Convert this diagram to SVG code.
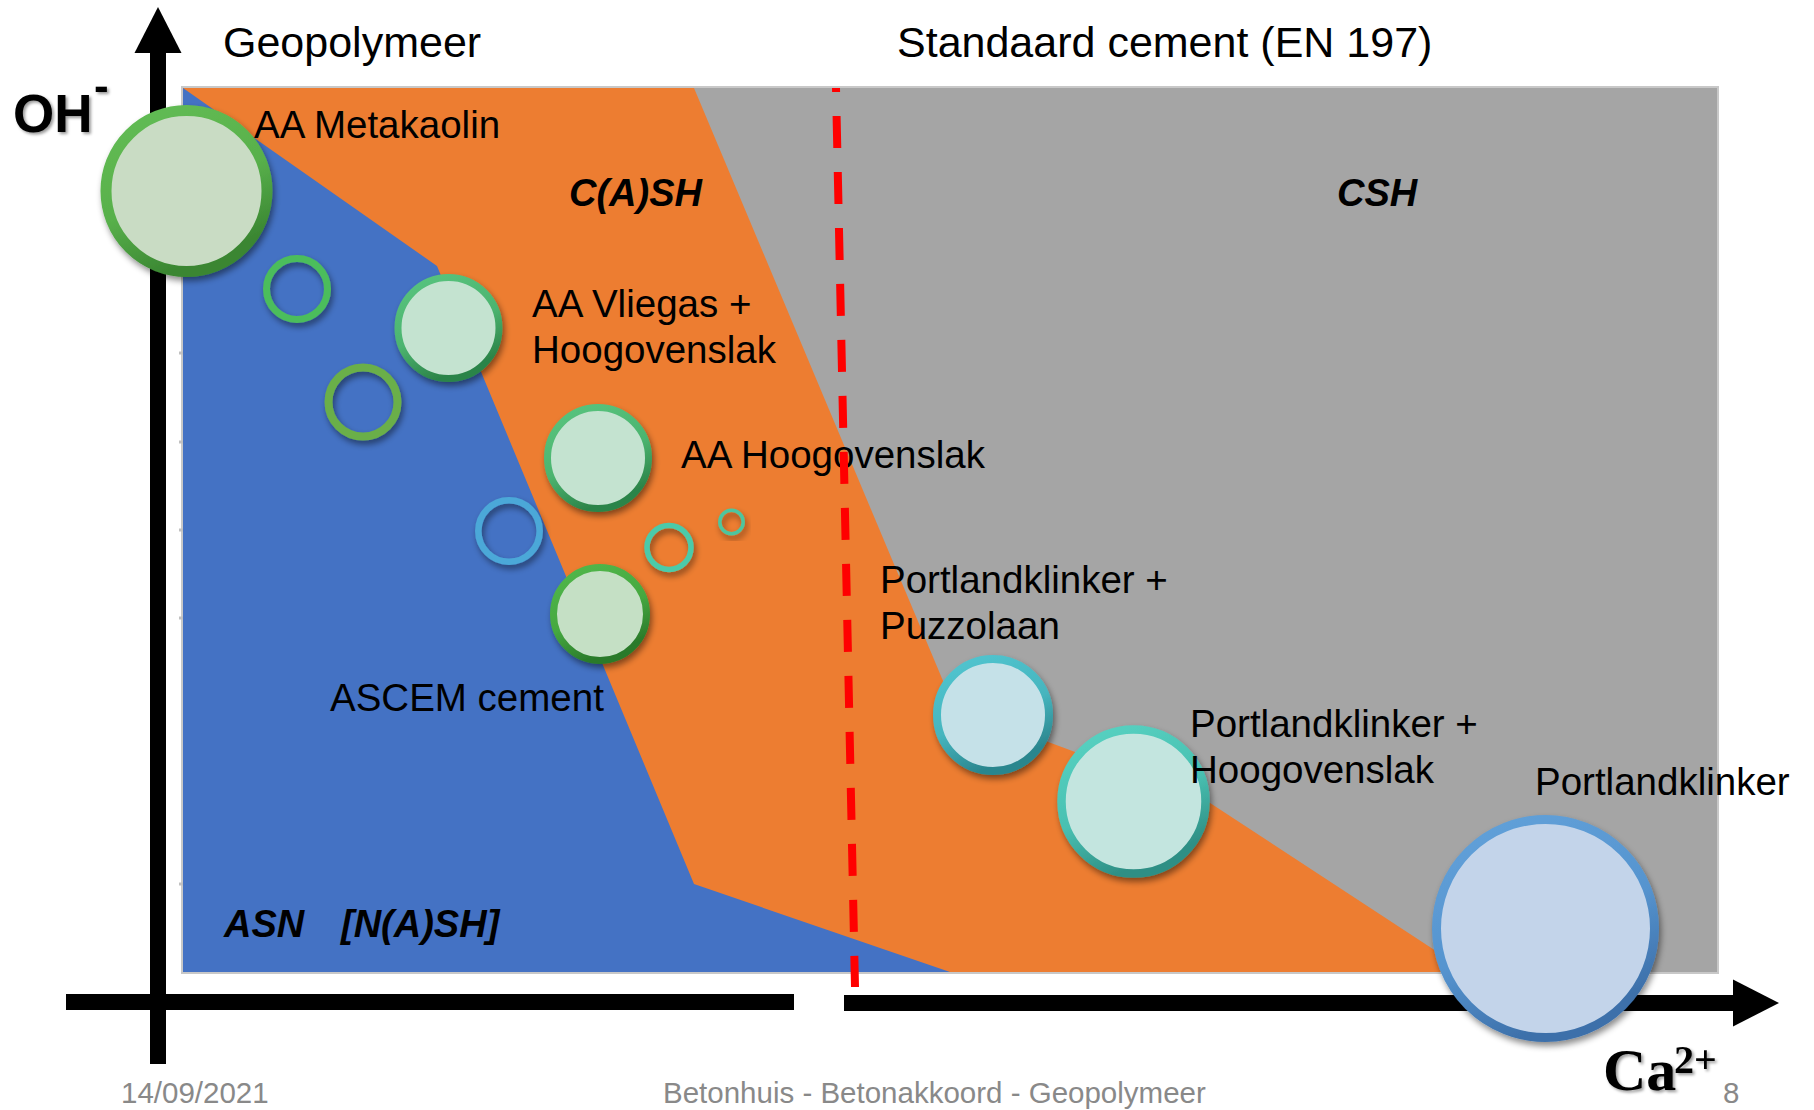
<svg xmlns="http://www.w3.org/2000/svg" width="1814" height="1110" viewBox="0 0 1814 1110">
  <style>
    .lbl { font-family: "Liberation Sans", Arial, sans-serif; font-size: 38.5px; fill: #000; }
    .title { font-family: "Liberation Sans", Arial, sans-serif; font-size: 43px; fill: #000; }
    .zone { font-family: "Liberation Sans", Arial, sans-serif; font-size: 38px; font-weight: bold; font-style: italic; fill: #000; }
    .foot { font-family: "Liberation Sans", Arial, sans-serif; font-size: 29.5px; fill: #898989; }
    .axis { stroke: #000; stroke-width: 16; fill: none; }
    .ring { fill: none; filter: url(#shadow); }
    .bubble { filter: url(#shadow); }
  </style>
  <defs>
    <filter id="shadow" x="-30%" y="-30%" width="160%" height="160%">
      <feDropShadow dx="2" dy="4" stdDeviation="3" flood-color="#000" flood-opacity="0.45"/>
    </filter>
    <filter id="tshadow" x="-20%" y="-20%" width="140%" height="140%">
      <feDropShadow dx="2" dy="2" stdDeviation="1.5" flood-color="#000" flood-opacity="0.4"/>
    </filter>
    <linearGradient id="gGreen" x1="0" y1="0" x2="0.4" y2="1">
      <stop offset="0" stop-color="#63bd55"/><stop offset="0.6" stop-color="#58b04b"/><stop offset="1" stop-color="#3a8632"/>
    </linearGradient>
    <linearGradient id="gGreen2" x1="0" y1="0" x2="0.4" y2="1">
      <stop offset="0" stop-color="#58c57f"/><stop offset="0.6" stop-color="#4cb46f"/><stop offset="1" stop-color="#2c8449"/>
    </linearGradient>
    <linearGradient id="gGreen3" x1="0" y1="0" x2="0.4" y2="1">
      <stop offset="0" stop-color="#52b84b"/><stop offset="0.6" stop-color="#45a840"/><stop offset="1" stop-color="#2a7a2a"/>
    </linearGradient>
    <linearGradient id="gTeal" x1="0" y1="0" x2="0.4" y2="1">
      <stop offset="0" stop-color="#52c6d1"/><stop offset="0.6" stop-color="#46b5be"/><stop offset="1" stop-color="#2b868e"/>
    </linearGradient>
    <linearGradient id="gTeal2" x1="0" y1="0" x2="0.4" y2="1">
      <stop offset="0" stop-color="#58d3c3"/><stop offset="0.6" stop-color="#49c0b1"/><stop offset="1" stop-color="#2e8f85"/>
    </linearGradient>
    <linearGradient id="gBlue" x1="0" y1="0" x2="0.4" y2="1">
      <stop offset="0" stop-color="#62a2da"/><stop offset="0.6" stop-color="#5694cf"/><stop offset="1" stop-color="#3d70aa"/>
    </linearGradient>
    <marker id="arrow" markerUnits="userSpaceOnUse" markerWidth="47" markerHeight="48" refX="0" refY="23.5" orient="auto" overflow="visible">
      <path d="M0,0 L46,23.5 L0,47 Z" fill="#000"/>
    </marker>
  </defs>

  <rect width="1814" height="1110" fill="#ffffff"/>

  <g id="chart-area">
    <rect x="182" y="87" width="1536" height="886" fill="none" stroke="#c8c8c8" stroke-width="2"/>
    <rect x="183" y="88" width="1534" height="884" fill="#a5a5a5"/>
    <polygon id="zone-cash" points="183,88 694,88 954,707 1207,801 1468,972 183,972" fill="#ed7d31"/>
    <polygon id="zone-nash" points="183,88 437,266 694,884 950,972 183,972" fill="#4472c4"/>
    <g stroke="#c0c0c0" stroke-width="3">
      <line x1="179" y1="353" x2="183" y2="353"/>
      <line x1="179" y1="442" x2="183" y2="442"/>
      <line x1="179" y1="530" x2="183" y2="530"/>
      <line x1="179" y1="618" x2="183" y2="618"/>
      <line x1="179" y1="884" x2="183" y2="884"/>
    </g>
  </g>

  <g id="zone-labels">
    <text class="zone" x="569" y="206">C(A)SH</text>
    <text class="zone" x="1337" y="206">CSH</text>
    <text class="zone" y="937"><tspan x="224">ASN</tspan><tspan x="341">[N(A)SH]</tspan></text>
  </g>

  <g id="connectors">
    <line class="axis" x1="158" y1="1064" x2="158" y2="53" marker-end="url(#arrow)"/>
    <line class="axis" x1="66" y1="1002" x2="794" y2="1002"/>
    <line class="axis" x1="844" y1="1003" x2="1733" y2="1003" marker-end="url(#arrow)"/>
  </g>

  <g id="titles">
    <text class="title" x="223" y="57">Geopolymeer</text>
    <text class="title" x="897" y="57">Standaard cement (EN 197)</text>
  </g>

  <g id="axis-labels">
    <text x="13" y="132" filter="url(#tshadow)" font-family="'Liberation Sans', Arial, sans-serif" font-weight="bold" font-size="53" fill="#000">OH<tspan x="94" y="101" font-size="44">-</tspan></text>
    <text x="1603" y="1090" filter="url(#tshadow)" font-family="'Liberation Serif', 'Times New Roman', serif" font-weight="bold" font-size="60" fill="#000">Ca<tspan x="1674" y="1073" font-size="40">2+</tspan></text>
  </g>

  <g id="node-ring1"><circle class="ring" cx="297" cy="289" r="30.5" stroke="#4cbd5c" stroke-width="7"/></g>
  <g id="node-ring2"><circle class="ring" cx="363" cy="402" r="34.5" stroke="#6aaf48" stroke-width="8"/></g>
  <g id="node-ring-blue"><circle class="ring" cx="509" cy="531" r="30.7" stroke="#4ca8d8" stroke-width="6.5"/></g>
  <g id="node-ring-teal"><circle class="ring" cx="669" cy="547.5" r="22" stroke="#4ccaa9" stroke-width="5.5"/></g>
  <g id="node-ring-tiny"><circle class="ring" cx="731.5" cy="522" r="11.7" stroke="#4ec59e" stroke-width="3.5"/></g>

  <g id="node-metakaolin">
    <circle class="bubble" cx="186.5" cy="191" r="80.5" fill="#c9dcc4" stroke="url(#gGreen)" stroke-width="11"/>
    <text class="lbl" x="254" y="138">AA Metakaolin</text>
  </g>
  <g id="node-vliegas">
    <circle class="bubble" cx="448.5" cy="328" r="50.5" fill="#c4e3d0" stroke="url(#gGreen2)" stroke-width="7"/>
    <text class="lbl" x="532" y="317">AA Vliegas +</text>
    <text class="lbl" x="532" y="363">Hoogovenslak</text>
  </g>
  <g id="node-aa-hoogovenslak">
    <circle class="bubble" cx="598" cy="458" r="50.5" fill="#c4e3d0" stroke="url(#gGreen2)" stroke-width="7"/>
    <text class="lbl" x="681" y="468">AA Hoogovenslak</text>
  </g>
  <g id="node-ascem">
    <circle class="bubble" cx="600" cy="614" r="46.5" fill="#c5e0c5" stroke="url(#gGreen3)" stroke-width="7"/>
    <text class="lbl" x="330" y="711">ASCEM cement</text>
  </g>
  <g id="node-pk-puzzolaan">
    <circle class="bubble" cx="993" cy="715" r="56" fill="#c5e1e8" stroke="url(#gTeal)" stroke-width="8"/>
    <text class="lbl" x="880" y="593">Portlandklinker +</text>
    <text class="lbl" x="880" y="639">Puzzolaan</text>
  </g>
  <g id="node-pk-hoogovenslak">
    <circle class="bubble" cx="1133.5" cy="801.5" r="72" fill="#c3e5df" stroke="url(#gTeal2)" stroke-width="8.5"/>
    <text class="lbl" x="1190" y="737">Portlandklinker +</text>
    <text class="lbl" x="1190" y="783">Hoogovenslak</text>
  </g>
  <g id="node-portlandklinker">
    <circle class="bubble" cx="1545.5" cy="928.5" r="109" fill="#c3d4ea" stroke="url(#gBlue)" stroke-width="9"/>
    <text class="lbl" x="1535" y="795">Portlandklinker</text>
  </g>

  <g id="divider">
    <line x1="836" y1="88" x2="855" y2="987" stroke="#ff0000" stroke-width="8" stroke-dasharray="32 24" stroke-dashoffset="28"/>
  </g>

  <g id="footer">
    <text class="foot" x="121" y="1103">14/09/2021</text>
    <text class="foot" x="663" y="1103">Betonhuis - Betonakkoord - Geopolymeer</text>
    <text class="foot" x="1723" y="1103">8</text>
  </g>
</svg>
